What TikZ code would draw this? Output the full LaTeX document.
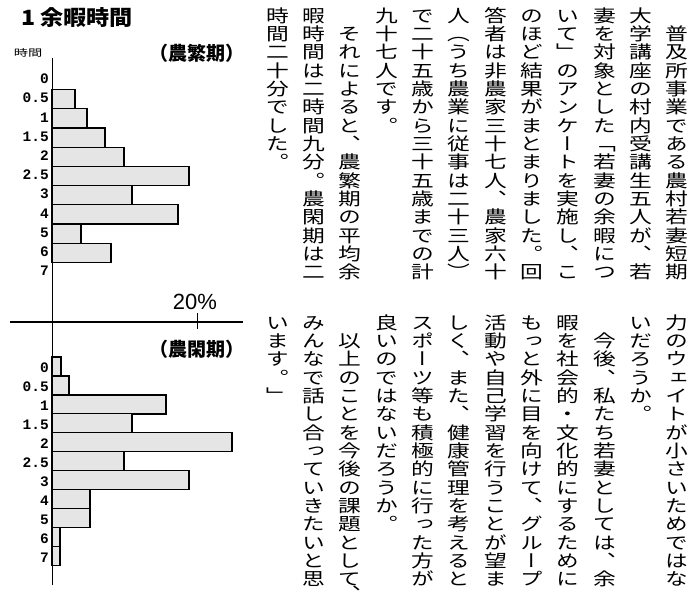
\documentclass[tikz,border=0pt]{standalone}
\usepackage{fontspec}
\setmainfont{Noto Sans CJK JP}
\newfontfamily\tatefont[RawFeature=+vert,FakeStretch=1.3]{Noto Sans CJK JP}
\newfontfamily\midasi[FakeStretch=1.1]{Noto Sans CJK JP}
\newfontfamily\kikanfont{Noto Sans CJK JP}
\newfontfamily\jikanfont[FakeStretch=1.5]{Noto Sans CJK JP}
\newfontfamily\kazufont{Liberation Mono}
\newfontfamily\pctfont{Liberation Sans}

% one character cell of a vertical column
\newcommand\tatemoji[1]{\hbox to 24pt{\hss\vbox to 18.35pt{\vss
  \hbox{\vrule height .88em depth .12em width 0pt#1}\vss}\hss}}
% hanging comma below the last character of a column
\newcommand\burasage[1]{\llap{\raisebox{-14.35pt}[0pt][0pt]{#1}}}
\ExplSyntaxOn
\NewDocumentCommand\tategaki{m}
  {\vbox{\offinterlineskip\exp_args:No\tl_map_function:nN{#1}\tatemoji}}
\ExplSyntaxOff

\tikzset{
  bar/.style={draw=black, line width=1.2pt, fill=gray!20},
  hlab/.style={anchor=east, inner sep=0pt, font=\kazufont\bfseries\fontsize{14.5}{15}\selectfont},
  kikan/.style={inner sep=0pt, font=\kikanfont\bfseries\fontsize{19}{20}\selectfont},
  tate/.style={anchor=north, inner sep=0pt, font=\tatefont\fontsize{17.5}{18}\selectfont}
}

\begin{document}
\begin{tikzpicture}[x=1pt, y=-1pt]
	\useasboundingbox[fill=white] (0,0) rectangle (696,599);
	% Title and headings.
	\node[anchor=west, inner sep=0pt, font=\midasi\bfseries\fontsize{21}{22}\selectfont]
		(title) at (21,18) {1 余暇時間};
	\node[inner sep=0pt, font=\jikanfont\fontsize{9.5}{10}\selectfont]
		(jikan) at (28,53) {時間};
	\node[kikan] (hanki) at (197,53) {（農繁期）};
	\node[kikan] (kanki) at (197,349) {（農閑期）};
	% Axes.
	\draw[line width=1pt] (52,58) -- (52,585);
	\draw[line width=1.3pt] (10,322) -- (243,322);
	\draw[line width=0.8pt] (197,313) -- (197,329);
	\node[inner sep=0pt, font=\pctfont\fontsize{22}{23}\selectfont]
		(pct) at (195,302) {20\%};
	% Busy season.
	\foreach \k/\lab in {0/0,1/0.5,2/1,3/1.5,4/2,5/2.5,6/3,7/4,8/5,9/6,10/7}
		\node[hlab] (u\k) at (49,{79+19.2*\k}) {\lab};
	\foreach \k/\w in {1/75,2/87,3/105,4/124,5/189,6/132,7/178,8/81,9/111}
		\draw[bar] (52,{80+19.2*\k-9.6}) rectangle (\w,{80+19.2*\k+9.6});
	% Slack season.
	\foreach \k/\lab in {0/0,1/0.5,2/1,3/1.5,4/2,5/2.5,6/3,7/4,8/5,9/6,10/7}
		\node[hlab] (l\k) at (49,{368+18.95*\k}) {\lab};
	\foreach \k/\w in {0/61,1/69,2/166,3/132,4/232,5/124,6/189,7/90,8/90,9/60,10/60}
		\draw[bar] (52,{366.5+18.95*\k-9.5}) rectangle (\w,{366.5+18.95*\k+9.5});
	% Article, upper half.
	\foreach \col [count=\i from 0] in {
		　普及所事業である農村若妻短期,
		大学講座の村内受講生五人が、若,
		妻を対象とした「若妻の余暇につ,
		いて」のアンケートを実施し、こ,
		のほど結果がまとまりました。回,
		答者は非農家三十七人、農家六十,
		人（うち農業に従事は二十三人）,
		で二十五歳から三十五歳までの計,
		九十七人です。,
		　それによると、農繁期の平均余,
		暇時間は二時間九分。農閑期は二,
		時間二十分でした。}
		\node[tate] (a\i) at ({677-36.3*\i},6) {\tategaki{\col}};
	% Article, lower half.
	\foreach \col [count=\i from 0] in {
		力のウェイトが小さいためではな,
		いだろうか。,
		　今後、私たち若妻としては、余,
		暇を社会的・文化的にするために,
		もっと外に目を向けて、グループ,
		活動や自己学習を行うことが望ま,
		しく、また、健康管理を考えると,
		スポーツ等も積極的に行った方が,
		良いのではないだろうか。,
		　以上のことを今後の課題とし{て\burasage{、}},
		みんなで話し合っていきたいと思,
		います。」}
		\node[tate] (b\i) at ({677-36.3*\i},313) {\tategaki{\col}};
\end{tikzpicture}
\end{document}
